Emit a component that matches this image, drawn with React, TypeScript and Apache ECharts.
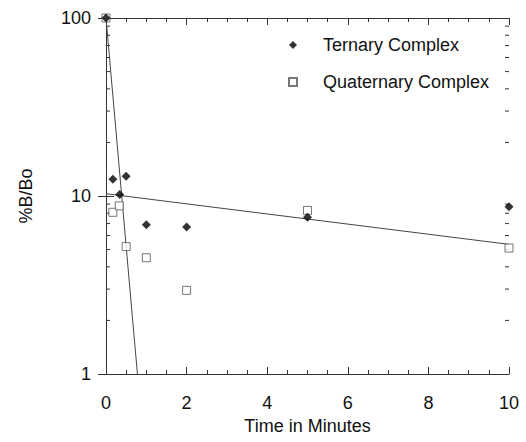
import React, { useEffect, useRef } from "react";
import * as echarts from "echarts";

const ternaryX = [0, 0.17, 0.34, 0.5, 1, 2, 5, 10];
const ternaryY = [100, 12.4, 10.2, 12.9, 6.9, 6.7, 7.6, 8.7];
const quaternaryX = [0, 0.17, 0.33, 0.5, 1, 2, 5, 10];
const quaternaryY = [100, 8.1, 8.8, 5.2, 4.5, 2.95, 8.3, 5.1];
const fastFitX = [0, 0.78];
const fastFitY = [100, 1];
const slowFitX = [0, 10];
const slowFitY = [10.3, 5.35];
const yMinorTicks = [2, 3, 4, 5, 6, 7, 8, 9, 20, 30, 40, 50, 60, 70, 80, 90];

const FONT = "Liberation Sans, Arial, sans-serif";
const AX = "#333";
const TXT = "#111";

export default function App() {
  const ref = useRef<HTMLDivElement>(null);
  useEffect(() => {
    const chart = echarts.init(ref.current!, null, { renderer: "svg" });
    const zip = (xs: number[], ys: number[]) => xs.map((x, i) => [x, ys[i]]);
    const xAxisBase = {
      type: "value",
      min: 0,
      max: 10,
      interval: 2,
      axisLine: { show: true, lineStyle: { color: AX, width: 1 } },
      axisTick: { show: true, inside: true, length: 7, lineStyle: { color: AX } },
      minorTick: { show: true, splitNumber: 4, length: 4, lineStyle: { color: AX } },
      splitLine: { show: false },
    };
    const yAxisBase = {
      type: "log",
      logBase: 10,
      min: 1,
      max: 100,
      axisLine: { show: true, lineStyle: { color: AX, width: 1 } },
      axisTick: { show: true, inside: true, length: 8, lineStyle: { color: AX } },
      splitLine: { show: false },
    };
    chart.setOption({
      animation: false,
      backgroundColor: "#fff",
      textStyle: { fontFamily: FONT },
      grid: { left: 106, right: 17, top: 18, bottom: 68, containLabel: false, outerBoundsMode: "none" },
      legend: {
        orient: "vertical",
        left: 283,
        top: 31,
        itemGap: 19,
        itemWidth: 8,
        itemHeight: 8,
        data: ["Ternary Complex", "Quaternary Complex"],
        textStyle: { fontSize: 18, color: TXT, fontFamily: FONT, padding: [0, 0, 0, 21] },
      },
      xAxis: [
        {
          ...xAxisBase,
          position: "bottom",
          name: "Time in Minutes",
          nameLocation: "middle",
          nameGap: 43,
          nameTextStyle: { fontSize: 18, color: TXT, fontFamily: FONT },
          axisLabel: { fontSize: 18, color: TXT, margin: 20, fontFamily: FONT },
        },
        {
          ...xAxisBase,
          position: "top",
          axisLabel: { show: false },
        },
      ],
      yAxis: [
        {
          ...yAxisBase,
          position: "left",
          name: "%B/Bo",
          nameLocation: "middle",
          nameGap: 71,
          nameTextStyle: { fontSize: 18, color: TXT, fontFamily: FONT },
          axisLabel: { fontSize: 18, color: TXT, margin: 15, fontFamily: FONT },
        },
        {
          ...yAxisBase,
          position: "right",
          axisLabel: { show: false },
        },
      ],
      series: [
        {
          type: "line",
          data: zip(fastFitX, fastFitY),
          symbol: "none",
          lineStyle: { color: "#444", width: 1 },
          silent: true,
          z: 1,
        },
        {
          type: "line",
          data: zip(slowFitX, slowFitY),
          symbol: "none",
          lineStyle: { color: "#444", width: 1 },
          silent: true,
          z: 1,
        },
        {
          name: "Ternary Complex",
          type: "scatter",
          data: zip(ternaryX, ternaryY),
          symbol: "diamond",
          symbolSize: 9,
          itemStyle: { color: "#000" },
          z: 3,
        },
        {
          name: "Quaternary Complex",
          type: "scatter",
          data: zip(quaternaryX, quaternaryY),
          symbol: "rect",
          symbolSize: 8,
          itemStyle: { color: "#fff", borderColor: "#555", borderWidth: 1 },
          z: 2,
        },
        {
          type: "custom",
          silent: true,
          data: yMinorTicks.map((v) => [0, v]),
          renderItem: (params: any, api: any) => {
            const v = api.value(1);
            const l = api.coord([0, v]);
            const r = api.coord([10, v]);
            return {
              type: "group",
              children: [
                { type: "line", shape: { x1: l[0], y1: l[1], x2: l[0] + 4, y2: l[1] }, style: { stroke: AX, lineWidth: 1 } },
                { type: "line", shape: { x1: r[0], y1: r[1], x2: r[0] - 4, y2: r[1] }, style: { stroke: AX, lineWidth: 1 } },
              ],
            };
          },
          z: 1,
        },
      ],
    });
    return () => chart.dispose();
  }, []);
  return (
    <div
      ref={ref}
      style={{ position: "absolute", left: 0, top: 0, width: 526, height: 442 }}
    />
  );
}
